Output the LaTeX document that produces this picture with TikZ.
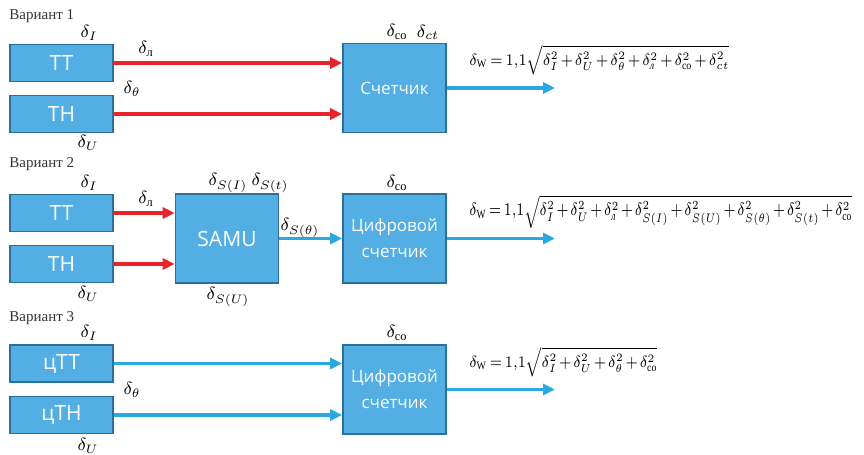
\documentclass[tikz,border=0pt]{standalone}
\usepackage{fix-cm}
\usepackage{amsmath}
\usepackage{graphicx}
\usepackage{fontspec}
\setmainfont{Liberation Serif}
\newfontfamily\boxfont{Open Sans}
\usetikzlibrary{arrows.meta,positioning}
\usepackage{xcolor}
\definecolor{blkfill}{HTML}{52AEE3}
\definecolor{blkline}{HTML}{2B6F9C}
\definecolor{sigred}{HTML}{E8232A}
\definecolor{sigblue}{HTML}{2AA9E1}

\begin{document}
\begin{tikzpicture}[x=0.5pt,y=-0.5pt,
  blk/.style={draw=blkline, fill=blkfill, line width=0.8pt, minimum width=51.5pt, minimum height=18.5pt,
    inner sep=0pt, text=white, font=\boxfont\fontsize{10.5}{12}\selectfont},
  bigblk/.style={blk, minimum height=44.5pt, align=center, font=\boxfont\fontsize{8.5}{13}\selectfont},
  redarr/.style={draw=sigred, line width=1.6pt, -{Triangle[length=6pt,width=5.5pt]}},
  bluearr/.style={draw=sigblue, line width=1.6pt, -{Triangle[length=6pt,width=5.5pt]}},
  lbl/.style={inner sep=0pt, font=\fontsize{8.8}{10}\selectfont},
  title/.style={anchor=west, inner sep=0pt, text=black!80, font=\fontsize{7.5}{9}\selectfont},
  formula/.style={anchor=west, inner sep=0pt, font=\fontsize{7.5}{9}\selectfont,
    execute at begin node={\medmuskip=2mu\thickmuskip=3mu}}]
\useasboundingbox (0,0) rectangle (864,455);

% Variant 1
\node[title] (var1) at (9,16) {Вариант 1};
\node[blk] (tt1) at (61.5,63) {TT};
\node[blk] (th1) at (61.5,114) {TH};
\node[bigblk] (cnt1) at (394.5,88) {Счетчик};
\coordinate (out1) at (555,88);
\draw[redarr] (tt1.east) -- (tt1.east -| cnt1.west);
\draw[redarr] (th1.east) -- (th1.east -| cnt1.west);
\draw[bluearr] (cnt1.east) -- (out1);
\node[lbl] (dI1) at (89,33) {$\delta_I$};
\node[lbl] (dU1) at (88,143) {$\delta_U$};
\node[lbl] (dl1) at (146,49) {$\delta_{\text{л}}$};
\node[lbl] (dt1) at (132,89) {$\delta_\theta$};
\node[lbl] (dco1) at (397,32) {$\delta_{\mathrm{co}}$};
\node[lbl] (dct1) at (428,32) {$\delta_{ct}$};
\node[formula] (f1) at (469,60) {\resizebox{130pt}{10pt}{$\delta_{\mathrm{W}}=1{,}1\sqrt{\delta_I^2+\delta_U^2+\delta_\theta^2+\delta_{\textit{л}}^2+\delta_{\mathrm{co}}^2+\delta_{ct}^2}$}};

% Variant 2
\node[title] (var2) at (9,164) {Вариант 2};
\node[blk] (tt2) at (61.5,213) {TT};
\node[blk] (th2) at (61.5,264) {TH};
\node[bigblk, font=\boxfont\fontsize{10.5}{12}\selectfont] (samu) at (227,238.5) {SAMU};
\node[bigblk] (cnt2) at (394.5,238.5) {Цифровой\\счетчик};
\coordinate (out2) at (555,238.5);
\draw[redarr] (tt2.east) -- (tt2.east -| samu.west);
\draw[redarr] (th2.east) -- (th2.east -| samu.west);
\draw[bluearr] (samu.east) -- (cnt2.west);
\draw[bluearr] (cnt2.east) -- (out2);
\node[lbl] (dI2) at (89,183) {$\delta_I$};
\node[lbl] (dU2) at (88,294) {$\delta_U$};
\node[lbl] (dl2) at (146,199) {$\delta_{\text{л}}$};
\node[lbl] (dsi2) at (228,183) {$\delta_{S(I)}$};
\node[lbl] (dst2) at (270,183) {$\delta_{S(t)}$};
\node[lbl] (dsu2) at (228,297) {$\delta_{S(U)}$};
\node[lbl] (dsq2) at (300,228) {$\delta_{S(\theta)}$};
\node[lbl] (dco2) at (397,183) {$\delta_{\mathrm{co}}$};
\node[formula] (f2) at (469,212) {\resizebox{191.5pt}{10pt}{$\delta_{\mathrm{W}}=1{,}1\sqrt{\delta_I^2+\delta_U^2+\delta_{\textit{л}}^2+\delta_{S(I)}^2+\delta_{S(U)}^2+\delta_{S(\theta)}^2+\delta_{S(t)}^2+\delta_{\mathrm{co}}^2}$}};

% Variant 3
\node[title] (var3) at (9,318) {Вариант 3};
\node[blk] (tt3) at (61.5,363.5) {цТТ};
\node[blk] (th3) at (61.5,415) {цТН};
\node[bigblk] (cnt3) at (394.5,389.5) {Цифровой\\счетчик};
\coordinate (out3) at (555,389.5);
\draw[bluearr] (tt3.east) -- (tt3.east -| cnt3.west);
\draw[bluearr] (th3.east) -- (th3.east -| cnt3.west);
\draw[bluearr] (cnt3.east) -- (out3);
\node[lbl] (dI3) at (89,333) {$\delta_I$};
\node[lbl] (dU3) at (88,446) {$\delta_U$};
\node[lbl] (dt3) at (132,390) {$\delta_\theta$};
\node[lbl] (dco3) at (397,333) {$\delta_{\mathrm{co}}$};
\node[formula] (f3) at (469,362) {\resizebox{94pt}{10pt}{$\delta_{\mathrm{W}}=1{,}1\sqrt{\delta_I^2+\delta_U^2+\delta_\theta^2+\delta_{\mathrm{co}}^2}$}};
\end{tikzpicture}
\end{document}
